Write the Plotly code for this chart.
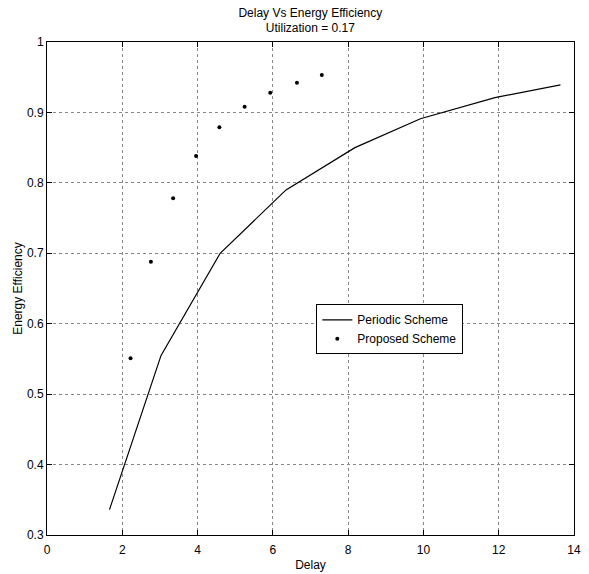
import plotly.graph_objects as go

# Periodic Scheme (line)
periodic_delay = [1.66, 3.03, 4.60, 6.35, 8.18, 9.92, 11.90, 13.64]
periodic_eff = [0.336, 0.555, 0.700, 0.790, 0.850, 0.891, 0.921, 0.939]

# Proposed Scheme (dots)
proposed_delay = [2.22, 2.76, 3.35, 3.96, 4.58, 5.25, 5.93, 6.64, 7.30]
proposed_eff = [0.551, 0.688, 0.778, 0.838, 0.879, 0.908, 0.928, 0.942, 0.953]

x_ticks = [0, 2, 4, 6, 8, 10, 12, 14]
y_ticks = [0.3, 0.4, 0.5, 0.6, 0.7, 0.8, 0.9, 1.0]
y_tick_text = ["0.3", "0.4", "0.5", "0.6", "0.7", "0.8", "0.9", "1"]

FONT = "Liberation Sans, Arial, sans-serif"

fig = go.Figure()
fig.add_trace(go.Scatter(
    x=periodic_delay, y=periodic_eff, mode="lines", name="Periodic Scheme",
    line=dict(color="black", width=1.2),
))
fig.add_trace(go.Scatter(
    x=proposed_delay, y=proposed_eff, mode="markers", name="Proposed Scheme",
    marker=dict(color="black", size=4),
))

axis_common = dict(
    showline=True, linecolor="black", linewidth=1, mirror="ticks",
    ticks="inside", ticklen=5, tickcolor="black", tickwidth=1,
    showgrid=True, gridcolor="#888", gridwidth=1, griddash="dot",
    zeroline=False, automargin=False,
    tickfont=dict(family=FONT, size=12, color="black"),
)

fig.update_layout(
    width=589, height=574,
    margin=dict(l=47, r=15, t=42, b=39),
    paper_bgcolor="white", plot_bgcolor="white",
    font=dict(family=FONT, size=12, color="black"),
    title=dict(
        text="Delay Vs Energy Efficiency<br>Utilization = 0.17",
        x=(46.7 + 574) / 2 / 589, xanchor="center", y=0.971, yanchor="top",
        font=dict(family=FONT, size=12, color="black"),
    ),
    xaxis=dict(
        range=[0, 14], tickvals=x_ticks, ticklabelstandoff=4,
        title=dict(text="Delay", standoff=4, font=dict(family=FONT, size=12)),
        **axis_common,
    ),
    yaxis=dict(
        range=[0.3, 1.0], tickvals=y_ticks, ticktext=y_tick_text,
        title=dict(text="Energy Efficiency", standoff=1, font=dict(family=FONT, size=12)),
        **axis_common,
    ),
    legend=dict(
        x=0.511, y=0.468, xanchor="left", yanchor="top",
        bgcolor="white", bordercolor="black", borderwidth=1,
        font=dict(family=FONT, size=12, color="black"),
        itemwidth=30, tracegroupgap=0,
    ),
    showlegend=True,
)

fig.write_html("out.html")
